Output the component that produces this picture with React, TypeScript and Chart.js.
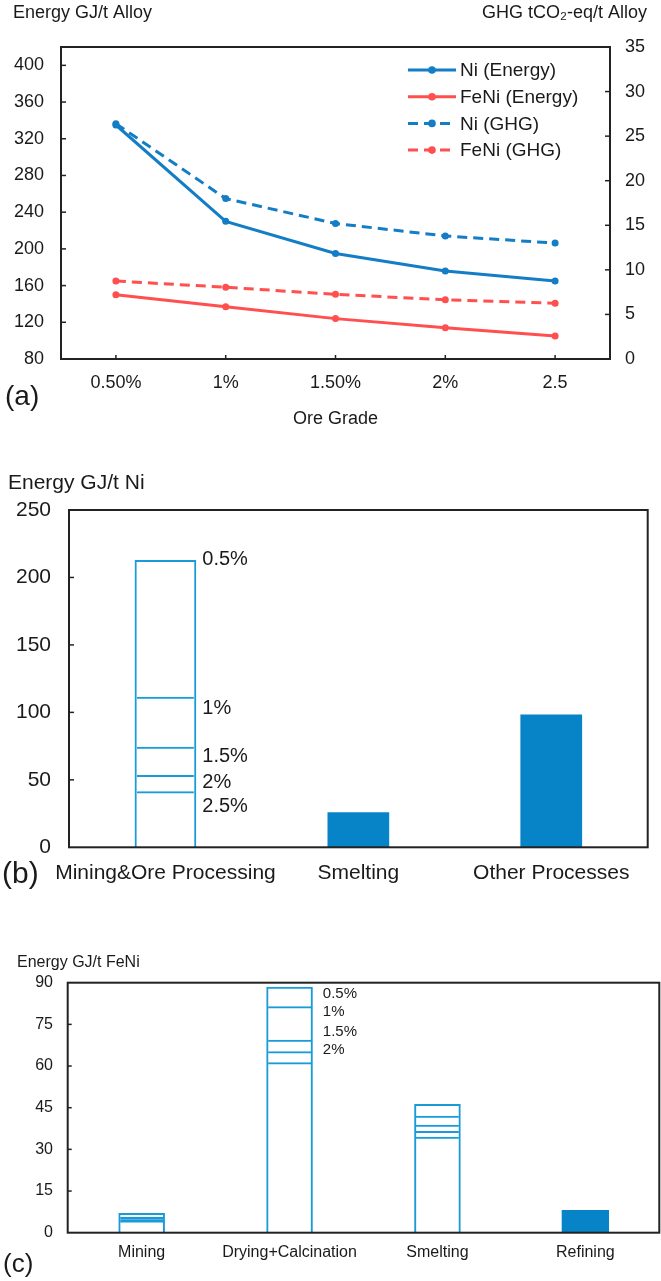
import React, { useEffect, useRef } from 'react';
import { Chart, registerables } from 'chart.js';

Chart.register(...registerables);

const FONT = "'Liberation Sans', Arial, Helvetica, sans-serif";
const TEXT = '#1a1a1a';
const AXIS = '#222222';
const BLUE_LINE = '#137dc5';
const RED_LINE = '#ff4f4f';
const BAR_FILL = '#0784c8';
const BAR_OUTLINE = '#1b9ad8';

// ---------- Panel (a) data ----------
const oreGradeTicks = ['0.50%', '1%', '1.50%', '2%', '2.5'];
const niEnergy = [335, 230, 195, 176, 165];
const feniEnergy = [150, 137, 124, 114, 105];
const niGhg = [26.4, 18.0, 15.2, 13.8, 13.0];
const feniGhg = [8.75, 8.05, 7.25, 6.65, 6.25];

// ---------- Panel (b) data ----------
const bCategories = ['Mining&Ore Processing', 'Smelting', 'Other Processes'];
const bGradeLabels = ['0.5%', '1%', '1.5%', '2%', '2.5%'];
const bMiningByGrade = [213, 111.5, 74.5, 53.5, 41.5];
const bSingleStage = [null, 26, 98.5];

// ---------- Panel (c) data ----------
const cCategories = ['Mining', 'Drying+Calcination', 'Smelting', 'Refining'];
const cGrades = ['0.5%', '1%', '1.5%', '2%', '2.5%'];
const cGradeLabels = ['0.5%', '1%', '1.5%', '2%'];
const cMiningByGrade = [7.1, 5.7, 5.4, 4.6, 4.4];
const cDryingByGrade = [88.5, 81.5, 69.5, 65.3, 61.4];
const cSmeltingByGrade = [46.3, 42.1, 38.9, 36.6, 34.5];
const cSingleStage = [null, null, null, 8.2];

// label anchor heights (data units) for the grade annotations
const bLabelAnchors = [213, 103, 67, 48, 30];
const cLabelAnchors = [86, 79.4, 72.3, 65.8];

type TextSpec = { text: string; x: number; y: number; size: number; align?: CanvasTextAlign };
type TickSpec = { scaleId: string; side: 'left' | 'right' | 'bottom'; len: number };

function decorPlugin(cfg: {
  texts: TextSpec[];
  ticks: TickSpec[];
  extra?: (chart: any, ctx: CanvasRenderingContext2D) => void;
}) {
  return {
    id: 'decor',
    afterDraw(chart: any) {
      const ctx: CanvasRenderingContext2D = chart.ctx;
      const a = chart.chartArea;
      ctx.save();
      ctx.strokeStyle = AXIS;
      ctx.lineWidth = 1.5;
      for (const t of cfg.ticks) {
        const sc = chart.scales[t.scaleId];
        sc.ticks.forEach((tk: any, i: number) => {
          ctx.beginPath();
          if (t.side === 'bottom') {
            const px = sc.getPixelForTick(i);
            ctx.moveTo(px, a.bottom);
            ctx.lineTo(px, a.bottom - t.len);
          } else {
            if (tk.value <= sc.min || tk.value >= sc.max) return;
            const py = sc.getPixelForValue(tk.value);
            const x0 = t.side === 'left' ? a.left : a.right;
            const x1 = t.side === 'left' ? a.left + t.len : a.right - t.len;
            ctx.moveTo(x0, py);
            ctx.lineTo(x1, py);
          }
          ctx.stroke();
        });
      }
      ctx.lineWidth = 2;
      ctx.strokeRect(a.left, a.top, a.right - a.left, a.bottom - a.top);
      ctx.fillStyle = TEXT;
      ctx.textBaseline = 'middle';
      for (const t of cfg.texts) {
        ctx.font = `${t.size}px ${FONT}`;
        ctx.textAlign = t.align || 'left';
        ctx.fillText(t.text, t.x, t.y);
      }
      if (cfg.extra) cfg.extra(chart, ctx);
      ctx.restore();
    },
  };
}

function tickFont(size: number) {
  return { family: FONT, size };
}

function configA(): any {
  const lineDs = (label: string, data: number[], color: string, axis: string, dashed: boolean) => ({
    label,
    data,
    yAxisID: axis,
    borderColor: color,
    backgroundColor: color,
    borderWidth: 3,
    borderDash: dashed ? [10, 6] : [],
    pointRadius: 3.5,
    pointBorderWidth: 0,
    pointBackgroundColor: color,
    tension: 0,
    fill: false,
  });
  const datasets = [
    lineDs('Ni (Energy)', niEnergy, BLUE_LINE, 'y', false),
    lineDs('FeNi (Energy)', feniEnergy, RED_LINE, 'y', false),
    lineDs('Ni (GHG)', niGhg, BLUE_LINE, 'y1', true),
    lineDs('FeNi (GHG)', feniGhg, RED_LINE, 'y1', true),
  ];
  const legend = (chart: any, ctx: CanvasRenderingContext2D) => {
    chart.data.datasets.forEach((ds: any, i: number) => {
      const y = 70 + i * 26.7;
      ctx.save();
      ctx.strokeStyle = ds.borderColor;
      ctx.lineWidth = 3;
      ctx.setLineDash(ds.borderDash);
      ctx.beginPath();
      ctx.moveTo(408, y);
      ctx.lineTo(456, y);
      ctx.stroke();
      ctx.setLineDash([]);
      ctx.fillStyle = ds.borderColor;
      ctx.beginPath();
      ctx.arc(432, y, 3.8, 0, Math.PI * 2);
      ctx.fill();
      ctx.fillStyle = TEXT;
      ctx.font = `19px ${FONT}`;
      ctx.textAlign = 'left';
      ctx.textBaseline = 'middle';
      ctx.fillText(ds.label, 460, y + 1);
      ctx.restore();
    });
  };
  return {
    type: 'line',
    data: { labels: oreGradeTicks, datasets },
    options: {
      responsive: false,
      animation: false,
      devicePixelRatio: 1,
      events: [],
      layout: { padding: { top: 47, left: 0, right: 0, bottom: 0 } },
      plugins: { legend: { display: false }, tooltip: { enabled: false } },
      scales: {
        x: {
          type: 'category',
          offset: true,
          grid: { display: false, drawTicks: false },
          border: { display: false },
          ticks: { font: tickFont(18), color: TEXT, padding: 13, maxRotation: 0, autoSkip: false },
          title: { display: true, text: 'Ore Grade', font: tickFont(18), color: TEXT, padding: { top: 0, bottom: 10 } },
          afterFit: (s: any) => { s.height = 81; },
        },
        y: {
          position: 'left',
          min: 80,
          max: 420,
          grid: { display: false, drawTicks: false },
          border: { display: false },
          ticks: {
            stepSize: 40,
            includeBounds: false,
            font: tickFont(18),
            color: TEXT,
            padding: 17,
            callback: (v: number) => (v > 400 ? '' : String(v)),
          },
          afterFit: (s: any) => { s.width = 61; },
        },
        y1: {
          position: 'right',
          min: 0,
          max: 35,
          grid: { display: false, drawTicks: false },
          border: { display: false },
          ticks: { stepSize: 5, font: tickFont(18), color: TEXT, padding: 15 },
          afterFit: (s: any) => { s.width = 51; },
        },
      },
    },
    plugins: [
      decorPlugin({
        texts: [
          { text: 'Energy GJ/t Alloy', x: 13, y: 13, size: 18 },
          { text: 'GHG tCO₂-eq/t Alloy', x: 647, y: 13, size: 18, align: 'right' },
          { text: '(a)', x: 5, y: 397, size: 28 },
        ],
        ticks: [
          { scaleId: 'y', side: 'left', len: 5 },
          { scaleId: 'y1', side: 'right', len: 5 },
          { scaleId: 'x', side: 'bottom', len: 4 },
        ],
        extra: legend,
      }),
    ],
  };
}

function gradeLabelDrawer(anchorDsIndex: number, catIndex: number, labels: string[], anchors: number[], gap: number, size: number) {
  return (chart: any, ctx: CanvasRenderingContext2D) => {
    const el = chart.getDatasetMeta(anchorDsIndex).data[catIndex];
    const right = el.x + el.width / 2;
    const ys = chart.scales.y;
    ctx.fillStyle = TEXT;
    ctx.font = `${size}px ${FONT}`;
    ctx.textAlign = 'left';
    ctx.textBaseline = 'middle';
    labels.forEach((lab, i) => {
      ctx.fillText(lab, right + gap, ys.getPixelForValue(anchors[i]));
    });
  };
}

function gradeDatasets(grades: string[], valuesFor: (i: number) => (number | null)[], outerPct: number, innerPct: number) {
  return grades.map((g, i) => ({
    label: g,
    data: valuesFor(i),
    backgroundColor: 'rgba(0,0,0,0)',
    borderColor: BAR_OUTLINE,
    borderWidth: i === 0 ? { top: 2, left: 2, right: 2, bottom: 0 } : { top: 2, left: 0, right: 0, bottom: 0 },
    borderSkipped: false,
    barPercentage: i === 0 ? outerPct : innerPct,
    categoryPercentage: 1,
    grouped: false,
  }));
}

function configB(): any {
  const datasets = [
    ...gradeDatasets(bGradeLabels, (i) => [bMiningByGrade[i], null, null], 0.32, 0.295),
    {
      label: 'Stage total',
      data: bSingleStage,
      backgroundColor: BAR_FILL,
      borderWidth: 0,
      barPercentage: 0.32,
      categoryPercentage: 1,
      grouped: false,
    },
  ];
  return {
    type: 'bar',
    data: { labels: bCategories, datasets },
    options: {
      responsive: false,
      animation: false,
      devicePixelRatio: 1,
      events: [],
      layout: { padding: { top: 70, left: 0, right: 13.3, bottom: 0 } },
      plugins: { legend: { display: false }, tooltip: { enabled: false } },
      scales: {
        x: {
          type: 'category',
          offset: true,
          grid: { display: false, drawTicks: false },
          border: { display: false },
          ticks: { font: tickFont(21), color: TEXT, padding: 13, maxRotation: 0, autoSkip: false },
          afterFit: (s: any) => { s.height = 52.7; },
        },
        y: {
          position: 'left',
          min: 0,
          max: 250,
          grid: { display: false, drawTicks: false },
          border: { display: false },
          ticks: { stepSize: 50, font: tickFont(21), color: TEXT, padding: 18 },
          afterFit: (s: any) => { s.width = 69; },
        },
      },
    },
    plugins: [
      decorPlugin({
        texts: [
          { text: 'Energy GJ/t Ni', x: 8, y: 43, size: 21 },
          { text: '(b)', x: 2, y: 435, size: 30 },
        ],
        ticks: [{ scaleId: 'y', side: 'left', len: 5 }],
        extra: gradeLabelDrawer(0, 0, bGradeLabels, bLabelAnchors, 6, 20),
      }),
    ],
  };
}

function configC(): any {
  const datasets = [
    ...gradeDatasets(cGrades, (i) => [cMiningByGrade[i], cDryingByGrade[i], cSmeltingByGrade[i], null], 0.315, 0.29),
    {
      label: 'Stage total',
      data: cSingleStage,
      backgroundColor: BAR_FILL,
      borderWidth: 0,
      barPercentage: 0.32,
      categoryPercentage: 1,
      grouped: false,
    },
  ];
  return {
    type: 'bar',
    data: { labels: cCategories, datasets },
    options: {
      responsive: false,
      animation: false,
      devicePixelRatio: 1,
      events: [],
      layout: { padding: { top: 82.7, left: 0, right: 1.7, bottom: 0 } },
      plugins: { legend: { display: false }, tooltip: { enabled: false } },
      scales: {
        x: {
          type: 'category',
          offset: true,
          grid: { display: false, drawTicks: false },
          border: { display: false },
          ticks: { font: tickFont(16), color: TEXT, padding: 10.4, maxRotation: 0, autoSkip: false },
          afterFit: (s: any) => { s.height = 48.3; },
        },
        y: {
          position: 'left',
          min: 0,
          max: 90,
          grid: { display: false, drawTicks: false },
          border: { display: false },
          ticks: { stepSize: 15, font: tickFont(16), color: TEXT, padding: 14.7 },
          afterFit: (s: any) => { s.width = 67.7; },
        },
      },
    },
    plugins: [
      decorPlugin({
        texts: [
          { text: 'Energy GJ/t FeNi', x: 17, y: 63, size: 16 },
          { text: '(c)', x: 3, y: 365, size: 26 },
        ],
        ticks: [{ scaleId: 'y', side: 'left', len: 4 }],
        extra: gradeLabelDrawer(0, 1, cGradeLabels, cLabelAnchors, 10, 15),
      }),
    ],
  };
}

export default function App() {
  const aRef = useRef<HTMLCanvasElement>(null);
  const bRef = useRef<HTMLCanvasElement>(null);
  const cRef = useRef<HTMLCanvasElement>(null);

  useEffect(() => {
    document.body.style.margin = '0';
    document.body.style.overflow = 'hidden';
    Chart.defaults.font.family = FONT;
    Chart.defaults.color = TEXT;
    const charts: Chart[] = [];
    if (aRef.current) charts.push(new Chart(aRef.current, configA()));
    if (bRef.current) charts.push(new Chart(bRef.current, configB()));
    if (cRef.current) charts.push(new Chart(cRef.current, configC()));
    return () => charts.forEach((c) => c.destroy());
  }, []);

  const cv = (top: number, h: number): React.CSSProperties => ({
    position: 'absolute',
    left: 0,
    top,
    width: 661,
    height: h,
    display: 'block',
  });

  return (
    <div style={{ position: 'absolute', left: 0, top: 0, width: 661, height: 1281, background: '#ffffff', overflow: 'hidden' }}>
      <canvas ref={aRef} width={661} height={440} style={cv(0, 440)} />
      <canvas ref={bRef} width={661} height={460} style={cv(440, 460)} />
      <canvas ref={cRef} width={661} height={381} style={cv(900, 381)} />
    </div>
  );
}
